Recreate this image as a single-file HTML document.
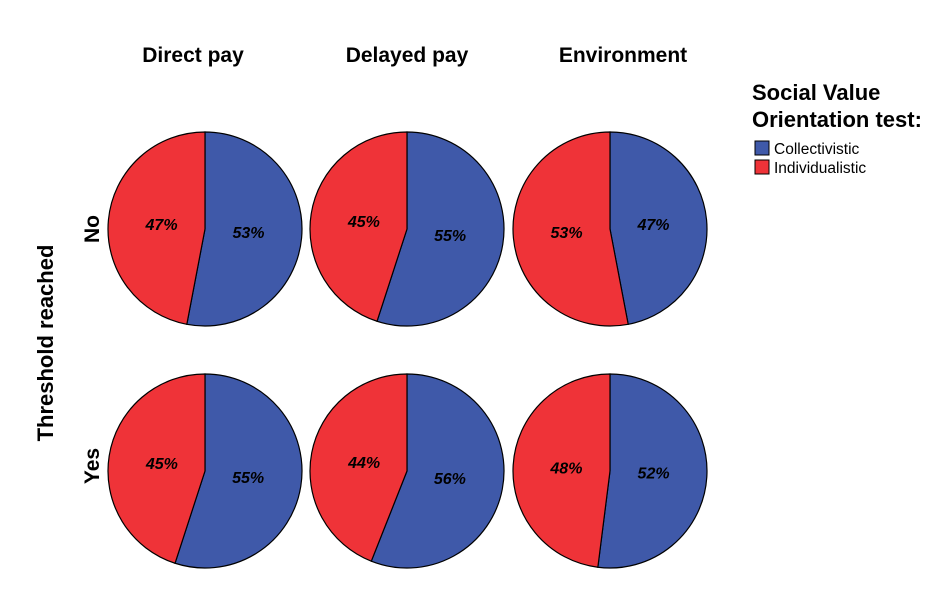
<!DOCTYPE html>
<html><head><meta charset="utf-8"><style>
body{margin:0;background:#fff;}
svg{display:block;font-family:"Liberation Sans",Arial,sans-serif;}
</style></head><body>
<svg id="chart" width="944" height="596">
<text x="193" y="62" text-anchor="middle" font-size="21" font-weight="bold">Direct pay</text>
<text x="407" y="62" text-anchor="middle" font-size="21" font-weight="bold">Delayed pay</text>
<text x="623" y="62" text-anchor="middle" font-size="21" font-weight="bold">Environment</text>
<text transform="translate(99,229) rotate(-90)" text-anchor="middle" font-size="21" font-weight="bold">No</text>
<text transform="translate(99,466) rotate(-90)" text-anchor="middle" font-size="21" font-weight="bold">Yes</text>
<text transform="translate(53,343) rotate(-90)" text-anchor="middle" font-size="22" font-weight="bold">Threshold reached</text>
<g>
<text x="752" y="100" font-size="22" font-weight="bold">Social Value</text>
<text x="752" y="127" font-size="22" font-weight="bold">Orientation test:</text>
<rect x="755" y="141" width="14" height="14" fill="#3f59a9" stroke="#000" stroke-width="1"/>
<text x="774" y="154" font-size="15.5">Collectivistic</text>
<rect x="755" y="160" width="14" height="14" fill="#ef3338" stroke="#000" stroke-width="1"/>
<text x="774" y="173" font-size="15.5">Individualistic</text>
</g>
</svg>
<script>
const columns=["Direct pay","Delayed pay","Environment"];
const rows=["No","Yes"];
const collectivistic=[[53,55,47],[55,56,52]];
const individualistic=[[47,45,53],[45,44,48]];
const colX=[205,407,610], rowY=[229,471], R=97;
const svg=document.getElementById('chart');
const NS="http://www.w3.org/2000/svg";
function pt(cx,cy,r,frac){const a=frac*2*Math.PI;return [cx+r*Math.sin(a),cy-r*Math.cos(a)];}
function slice(cx,cy,f0,f1,color,name){
  const p=document.createElementNS(NS,'path');
  const a=pt(cx,cy,R,f0),b=pt(cx,cy,R,f1);
  const large=(f1-f0)>0.5?1:0;
  p.setAttribute('d',`M${cx},${cy}L${a[0]},${a[1]}A${R},${R} 0 ${large} 1 ${b[0]},${b[1]}Z`);
  p.setAttribute('fill',color);p.setAttribute('stroke','#000');p.setAttribute('stroke-width','1.2');
  
  
  svg.appendChild(p);
}
function label(cx,cy,fmid,txt,name){
  const q=pt(cx,cy,R*0.45,fmid);
  const t=document.createElementNS(NS,'text');
  t.setAttribute('x',q[0]);t.setAttribute('y',q[1]+5);t.setAttribute('text-anchor','middle');
  t.setAttribute('font-size','16');t.setAttribute('font-weight','bold');t.setAttribute('font-style','italic');
  t.textContent=txt;
  
  
  svg.appendChild(t);
}
rows.forEach((r,i)=>columns.forEach((c,j)=>{
  const tot=collectivistic[i][j]+individualistic[i][j];
  const fb=collectivistic[i][j]/tot;
  const cx=colX[j],cy=rowY[i];
  const key=c.toLowerCase().replace(/ /g,'-')+'-'+r.toLowerCase();
  slice(cx,cy,0,fb,'#3f59a9','slice-collectivistic-'+key);
  slice(cx,cy,fb,1,'#ef3338','slice-individualistic-'+key);
  label(cx,cy,fb/2,collectivistic[i][j]+'%','label-collectivistic-'+key);
  label(cx,cy,(fb+1)/2,individualistic[i][j]+'%','label-individualistic-'+key);
}));
</script>
</body></html>
